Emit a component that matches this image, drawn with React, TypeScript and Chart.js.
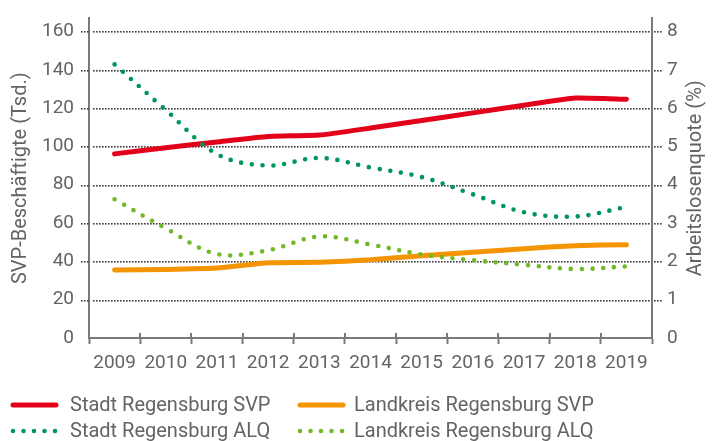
import React, { useEffect, useRef } from 'react';
import { Chart, registerables } from 'chart.js';

Chart.register(...registerables);

const years = ['2009', '2010', '2011', '2012', '2013', '2014', '2015', '2016', '2017', '2018', '2019'];
const stadtSVP = [96.1, 99.3, 102.3, 105.2, 105.9, 109.6, 113.5, 117.5, 121.5, 125.2, 124.6];
const landkreisSVP = [35.5, 35.8, 36.5, 39.3, 39.5, 40.8, 42.9, 44.8, 46.6, 48.2, 48.7];
const stadtALQ = [7.14, 5.95, 4.8, 4.5, 4.7, 4.45, 4.2, 3.75, 3.28, 3.17, 3.42];
const landkreisALQ = [3.62, 2.86, 2.19, 2.29, 2.65, 2.44, 2.18, 2.03, 1.91, 1.8, 1.87];

const seriesLabels = ['Stadt Regensburg SVP', 'Landkreis Regensburg SVP', 'Stadt Regensburg ALQ', 'Landkreis Regensburg ALQ'];
const leftTitle = 'SVP-Beschäftigte (Tsd.)';
const rightTitle = 'Arbeitslosenquote (%)';

const RED = '#e2001a';
const ORANGE = '#f39400';
const DGREEN = '#009559';
const LGREEN = '#72b82b';
const TEXT = '#646464';
const AXIS = '#7a7a7a';
const GRID = '#3c3c3c';
const FONT = 'Roboto';

const gridPlugin = {
  id: 'dottedGrid',
  beforeDatasetsDraw(chart: any) {
    const ctx = chart.ctx;
    const y = chart.scales.y;
    const area = chart.chartArea;
    ctx.save();
    ctx.fillStyle = GRID;
    const l = Math.round(area.left);
    const r = Math.round(area.right);
    y.ticks.forEach((t: any) => {
      if (t.value === 0) return;
      const py = Math.round(y.getPixelForValue(t.value));
      for (let px = l - 8; px <= r + 8; px += 3) {
        if (Math.abs(px - l) <= 1 || Math.abs(px - r) <= 1) continue;
        ctx.fillRect(px, py, 1.6, 1.6);
      }
    });
    ctx.restore();
  },
};

const extrasPlugin = {
  id: 'extras',
  afterDraw(chart: any) {
    const ctx = chart.ctx;
    const x = chart.scales.x;
    const area = chart.chartArea;
    ctx.save();
    ctx.strokeStyle = AXIS;
    ctx.lineWidth = 2;
    const n = years.length;
    for (let i = 1; i < n; i++) {
      const px = Math.round((x.getPixelForValue(i - 1) + x.getPixelForValue(i)) / 2);
      ctx.beginPath();
      ctx.moveTo(px, area.bottom - 5);
      ctx.lineTo(px, area.bottom);
      ctx.stroke();
    }
    ctx.restore();

    ctx.save();
    ctx.fillStyle = TEXT;
    ctx.font = `20px ${FONT}`;
    ctx.textAlign = 'center';
    ctx.textBaseline = 'middle';
    ctx.translate(696, (area.top + area.bottom) / 2);
    ctx.rotate(-Math.PI / 2);
    ctx.fillText(rightTitle, 0, 0);
    ctx.restore();

    const ds = chart.data.datasets;
    const cols = [{ sx: 13, tx: 70 }, { sx: 300, tx: 354 }];
    const rows = [405, 431];
    const place = [
      [0, 0],
      [1, 0],
      [0, 1],
      [1, 1],
    ];
    ds.forEach((d: any, i: number) => {
      const [c, r] = place[i];
      const yy = rows[r];
      const { sx, tx } = cols[c];
      ctx.save();
      ctx.strokeStyle = d.borderColor;
      ctx.lineCap = 'round';
      ctx.lineWidth = d.borderWidth;
      ctx.setLineDash(d.borderDash && d.borderDash.length ? [0, 10.5] : []);
      ctx.beginPath();
      ctx.moveTo(sx, yy);
      ctx.lineTo(sx + 43, yy);
      ctx.stroke();
      ctx.restore();
      ctx.save();
      ctx.fillStyle = TEXT;
      ctx.font = `20px ${FONT}`;
      ctx.textAlign = 'left';
      ctx.textBaseline = 'middle';
      ctx.fillText(d.label, tx, yy + 1);
      ctx.restore();
    });
  },
};

export default function App() {
  const ref = useRef<HTMLCanvasElement | null>(null);
  useEffect(() => {
    if (!ref.current) return;
    const tickFont = { family: FONT, size: 19 };
    const chart = new Chart(ref.current, {
      type: 'line',
      data: {
        labels: years,
        datasets: [
          {
            label: seriesLabels[0],
            data: stadtSVP,
            yAxisID: 'y',
            borderColor: RED,
            backgroundColor: RED,
            borderWidth: 5,
            borderCapStyle: 'round',
            borderJoinStyle: 'round',
            pointRadius: 0,
            tension: 0.15,
            order: 2,
          },
          {
            label: seriesLabels[1],
            data: landkreisSVP,
            yAxisID: 'y',
            borderColor: ORANGE,
            backgroundColor: ORANGE,
            borderWidth: 5,
            borderCapStyle: 'round',
            borderJoinStyle: 'round',
            pointRadius: 0,
            tension: 0.15,
            order: 3,
          },
          {
            label: seriesLabels[2],
            data: stadtALQ,
            yAxisID: 'y1',
            borderColor: DGREEN,
            backgroundColor: DGREEN,
            borderWidth: 4.6,
            borderDash: [0, 10.8],
            borderCapStyle: 'round',
            pointRadius: 0,
            tension: 0.35,
            order: 0,
          },
          {
            label: seriesLabels[3],
            data: landkreisALQ,
            yAxisID: 'y1',
            borderColor: LGREEN,
            backgroundColor: LGREEN,
            borderWidth: 4.6,
            borderDash: [0, 10.8],
            borderCapStyle: 'round',
            pointRadius: 0,
            tension: 0.35,
            order: 1,
          },
        ],
      },
      options: {
        animation: false,
        responsive: true,
        maintainAspectRatio: false,
        layout: { padding: { top: 12, bottom: 58, left: 0, right: 0 } },
        plugins: {
          legend: { display: false },
          tooltip: { enabled: false },
        },
        scales: {
          x: {
            type: 'category',
            offset: true,
            grid: {
              offset: true,
              drawOnChartArea: false,
              drawTicks: true,
              tickLength: 6,
              tickColor: AXIS,
              tickWidth: 2,
            },
            border: { display: true, color: AXIS, width: 2 },
            ticks: { color: TEXT, font: tickFont, padding: 8, maxRotation: 0, autoSkip: false },
            afterFit: (s: any) => {
              s.height = 45;
            },
          },
          y: {
            position: 'left',
            min: 0,
            max: 166.8,
            ticks: { stepSize: 20, includeBounds: false, color: TEXT, font: tickFont, padding: 7 },
            grid: {
              display: true,
              drawOnChartArea: false,
              drawTicks: true,
              tickLength: 8,
              color: 'rgba(0,0,0,0)',
              tickColor: 'rgba(0,0,0,0)',
            },
            border: { display: true, color: AXIS, width: 2 },
            title: {
              display: true,
              text: leftTitle,
              color: TEXT,
              font: { family: FONT, size: 20 },
              padding: { top: 9, bottom: 0 },
            },
            afterFit: (s: any) => {
              s.width = 89;
            },
          },
          y1: {
            position: 'right',
            min: 0,
            max: 8.34,
            ticks: { stepSize: 1, includeBounds: false, color: TEXT, font: tickFont, padding: 7 },
            grid: {
              display: true,
              drawOnChartArea: false,
              drawTicks: true,
              tickLength: 8,
              color: 'rgba(0,0,0,0)',
              tickColor: 'rgba(0,0,0,0)',
            },
            border: { display: true, color: AXIS, width: 2 },
            afterFit: (s: any) => {
              s.width = 64;
            },
          },
        },
      } as any,
      plugins: [gridPlugin, extrasPlugin],
    });
    return () => chart.destroy();
  }, []);

  return (
    <div style={{ position: 'absolute', left: 0, top: 0, width: 716, height: 441 }}>
      <canvas ref={ref} />
    </div>
  );
}
